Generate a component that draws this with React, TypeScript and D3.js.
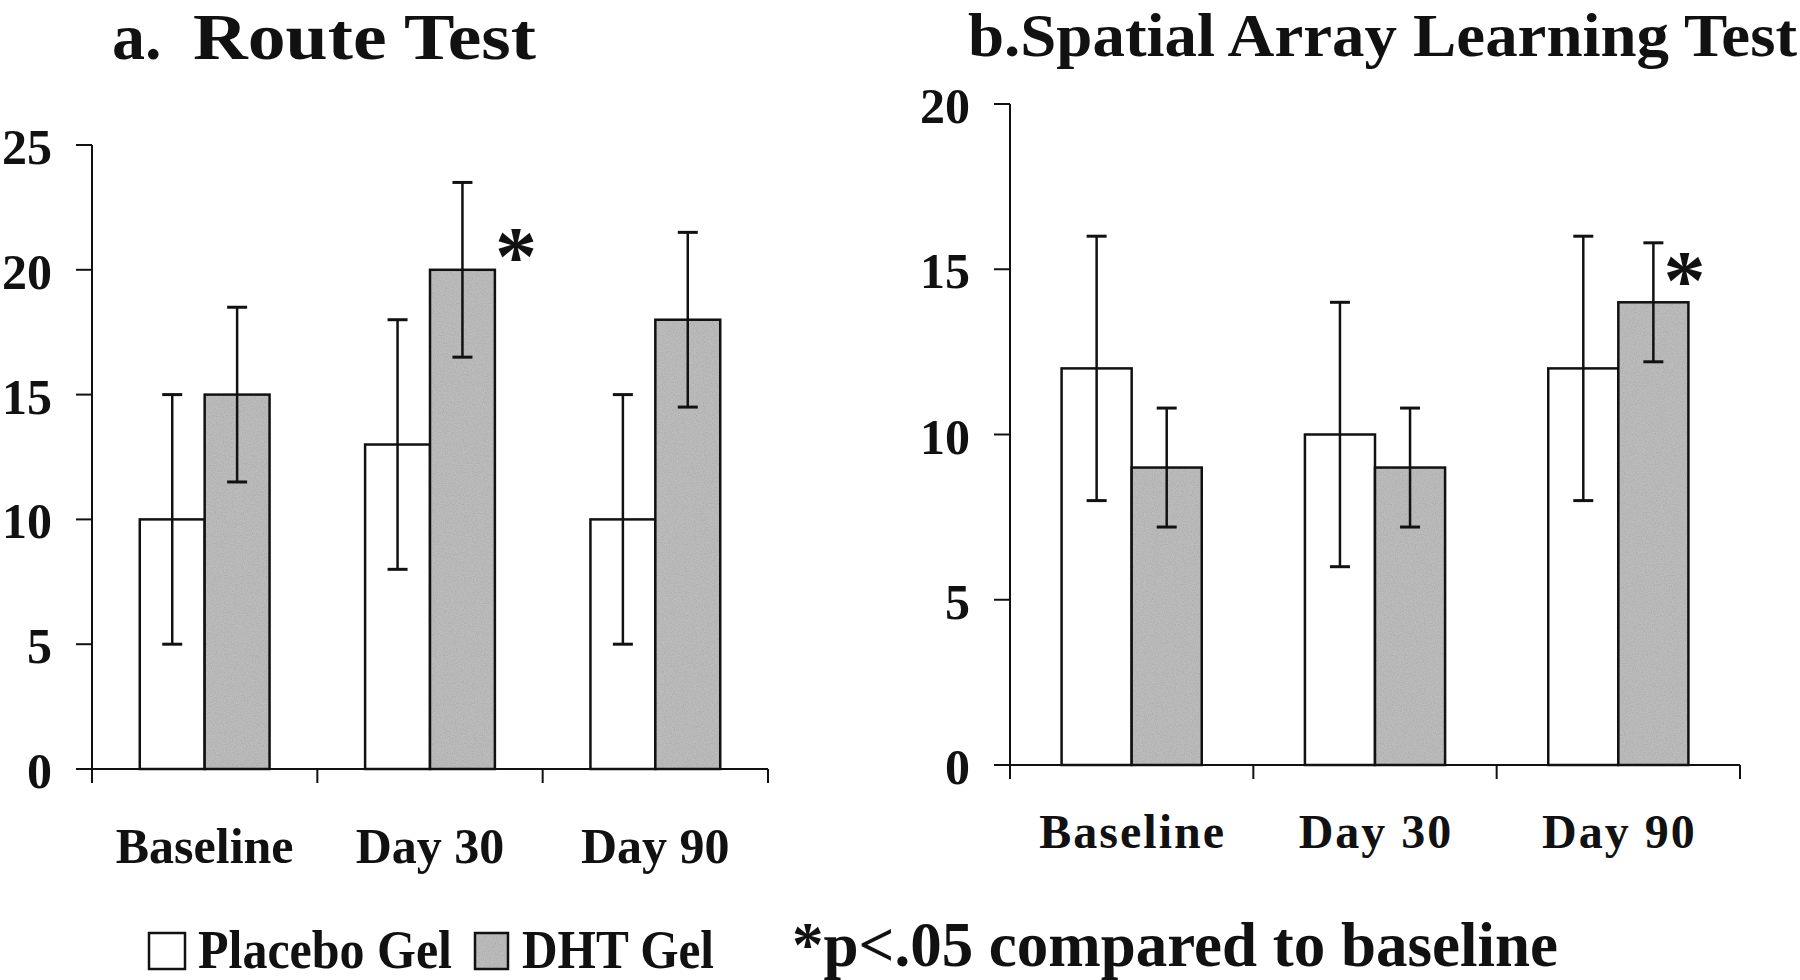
import React from "react";
import * as d3 from "d3";

const categories = ["Baseline", "Day 30", "Day 90"];
const seriesNames = ["Placebo Gel", "DHT Gel"];

const routePlacebo = [10, 13, 10];
const routePlaceboErr = [5, 5, 5];
const routeDHT = [15, 20, 18];
const routeDHTErr = [3.5, 3.5, 3.5];
const routeTicks = [0, 5, 10, 15, 20, 25];
const routeSignificant = ["Day 30"];

const spatialPlacebo = [12, 10, 12];
const spatialPlaceboErr = [4, 4, 4];
const spatialDHT = [9, 9, 14];
const spatialDHTErr = [1.8, 1.8, 1.8];
const spatialTicks = [0, 5, 10, 15, 20];
const spatialSignificant = ["Day 90"];

const FONT = "'Liberation Serif', 'Times New Roman', Times, serif";
const GRAY = "#bcbcbc";

type PanelProps = {
  placebo: number[];
  placeboErr: number[];
  dht: number[];
  dhtErr: number[];
  ticks: number[];
  significant: string[];
  xRange: [number, number];
  yRange: [number, number];
  labelY: number;
  labelSize: number;
  labelSpacing: number;
  starDx: number;
  starDy: number;
};

function Panel(p: PanelProps) {
  const yMax = p.ticks[p.ticks.length - 1];
  const y = d3.scaleLinear().domain([0, yMax]).range(p.yRange);
  const x = d3.scaleBand<string>().domain(categories).range(p.xRange).padding(0);
  const bw = x.bandwidth();
  const barW = bw * 0.288;
  const inner = d3
    .scaleBand<string>()
    .domain(seriesNames)
    .range([(bw - 2 * barW) / 2, (bw - 2 * barW) / 2 + 2 * barW])
    .padding(0);
  const x0 = p.xRange[0];
  const y0 = y(0);
  const capW = 20;
  const series = [
    { name: seriesNames[0], vals: p.placebo, errs: p.placeboErr, fill: "#ffffff" },
    { name: seriesNames[1], vals: p.dht, errs: p.dhtErr, fill: GRAY },
  ];
  const bounds = [p.xRange[0], ...categories.map((c) => (x(c) as number) + bw)];
  return (
    <g>
      {series.map((s) =>
        categories.map((c, i) => {
          const bx = (x(c) as number) + (inner(s.name) as number);
          const by = y(s.vals[i]);
          return (
            <g key={s.name + c}>
              <rect x={bx} y={by} width={barW} height={y0 - by} fill={s.fill}
                filter={s.fill === GRAY ? "url(#grain)" : undefined} />
              <rect x={bx} y={by} width={barW} height={y0 - by} fill="none" stroke="#111" strokeWidth={2.5} />
            </g>
          );
        })
      )}
      {series.map((s) =>
        categories.map((c, i) => {
          const cx = (x(c) as number) + (inner(s.name) as number) + barW / 2;
          const lo = y(s.vals[i] - s.errs[i]);
          const hi = y(s.vals[i] + s.errs[i]);
          return (
            <g key={"e" + s.name + c} stroke="#111">
              <line x1={cx} x2={cx} y1={lo} y2={hi} strokeWidth={2.5} />
              <line x1={cx - capW / 2} x2={cx + capW / 2} y1={lo} y2={lo} strokeWidth={3} />
              <line x1={cx - capW / 2} x2={cx + capW / 2} y1={hi} y2={hi} strokeWidth={3} />
            </g>
          );
        })
      )}
      {categories.map((c, i) =>
        p.significant.includes(c) ? (
          <text key={"s" + c}
            x={(x(c) as number) + (inner(seriesNames[1]) as number) + barW + p.starDx}
            y={y(p.dht[i]) + p.starDy}
            textAnchor="middle" fontFamily={FONT} fontWeight="bold" fontSize={84} fill="#111">
            *
          </text>
        ) : null
      )}
      <line x1={x0} x2={x0} y1={y(yMax)} y2={y0 + 14} stroke="#111" strokeWidth={2} />
      {p.ticks.map((t) => (
        <g key={"t" + t}>
          <line x1={x0 - 16} x2={x0} y1={y(t)} y2={y(t)} stroke="#111" strokeWidth={2} />
          <text x={x0 - 40} y={y(t) + 19} textAnchor="end" fontFamily={FONT} fontWeight="bold"
            fontSize={50} fill="#111">
            {t}
          </text>
        </g>
      ))}
      <line x1={x0 - 12} x2={p.xRange[1]} y1={y0} y2={y0} stroke="#111" strokeWidth={2} />
      {bounds.map((b, i) => (
        <line key={"b" + i} x1={b} x2={b} y1={y0} y2={y0 + 14} stroke="#111" strokeWidth={2} />
      ))}
      {categories.map((c) => (
        <text key={"l" + c} x={(x(c) as number) + bw / 2 + p.labelSpacing / 2} y={p.labelY}
          textAnchor="middle" fontFamily={FONT} fontWeight="bold" fontSize={p.labelSize}
          letterSpacing={p.labelSpacing} fill="#111">
          {c}
        </text>
      ))}
    </g>
  );
}

export default function App() {
  return (
    <svg width={1800} height={980} viewBox="0 0 1800 980"
      style={{ position: "absolute", left: 0, top: 0, background: "#fff" }}>
      <defs>
        <filter id="grain" x="0" y="0" width="100%" height="100%">
          <feTurbulence type="fractalNoise" baseFrequency="0.9" numOctaves={2} seed={3} result="n" />
          <feColorMatrix in="n" type="matrix"
            values="0 0 0 0 0.35  0 0 0 0 0.35  0 0 0 0 0.35  0 0 0 1.2 -0.45" result="g" />
          <feComposite in="g" in2="SourceGraphic" operator="in" result="gi" />
          <feMerge>
            <feMergeNode in="SourceGraphic" />
            <feMergeNode in="gi" />
          </feMerge>
        </filter>
      </defs>
      <rect x={0} y={0} width={1800} height={980} fill="#fff" />
      <text x={112} y={59} fontFamily={FONT} fontWeight="bold" fontSize={66} fill="#111">a.</text>
      <text x={193} y={59} fontFamily={FONT} fontWeight="bold" fontSize={66} fill="#111"
        textLength={343} lengthAdjust="spacingAndGlyphs">Route Test</text>
      <text x={968} y={56} fontFamily={FONT} fontWeight="bold" fontSize={61} fill="#111"
        textLength={829} lengthAdjust="spacingAndGlyphs">b.Spatial Array Learning Test</text>

      <Panel placebo={routePlacebo} placeboErr={routePlaceboErr} dht={routeDHT} dhtErr={routeDHTErr}
        ticks={routeTicks} significant={routeSignificant} xRange={[92, 768]} yRange={[769, 145]}
        labelY={863} labelSize={50} labelSpacing={0} starDx={21} starDy={15} />
      <Panel placebo={spatialPlacebo} placeboErr={spatialPlaceboErr} dht={spatialDHT} dhtErr={spatialDHTErr}
        ticks={spatialTicks} significant={spatialSignificant} xRange={[1010, 1740]} yRange={[765, 104]}
        labelY={848} labelSize={48} labelSpacing={2} starDx={-4} starDy={7} />

      <rect x={149} y={933} width={36} height={36} fill="#fff" stroke="#111" strokeWidth={2.5} />
      <text x={198} y={968} fontFamily={FONT} fontWeight="bold" fontSize={54} fill="#111"
        textLength={254} lengthAdjust="spacingAndGlyphs">Placebo Gel</text>
      <rect x={475} y={933} width={33} height={36} fill={GRAY} filter="url(#grain)" />
      <rect x={475} y={933} width={33} height={36} fill="none" stroke="#111" strokeWidth={2.5} />
      <text x={522} y={968} fontFamily={FONT} fontWeight="bold" fontSize={54} fill="#111"
        textLength={192} lengthAdjust="spacingAndGlyphs">DHT Gel</text>
      <text x={792} y={966} fontFamily={FONT} fontWeight="bold" fontSize={64} fill="#111"
        textLength={766} lengthAdjust="spacingAndGlyphs">*p&lt;.05 compared to baseline</text>
    </svg>
  );
}
